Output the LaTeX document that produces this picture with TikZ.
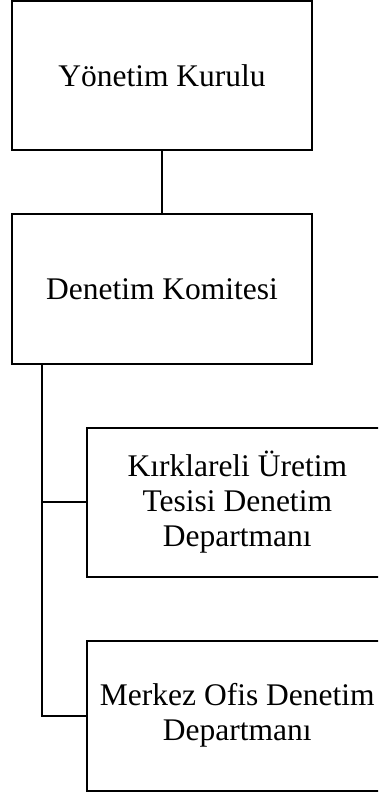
\documentclass[tikz,border=0pt]{standalone}
\usepackage{fontspec}
\setmainfont{Liberation Serif}
\usetikzlibrary{positioning}

\tikzset{
  unitbox/.style={draw, line width=2pt, minimum width=300pt, minimum height=150pt,
    inner sep=0pt, align=center, font=\fontsize{31.5}{35}\selectfont},
  orgline/.style={line width=2pt}
}

\begin{document}
\begin{tikzpicture}[x=1pt,y=-1pt]
  \clip (0,0) rectangle (378,794);
  % upper level
  \node[unitbox, minimum height=149pt] (board) at (162,76) {Yönetim Kurulu};
  \node[unitbox] (committee) at (162,289) {Denetim Komitesi};
  % departments
  \node[unitbox, minimum height=149pt] (plant) at (237.3,502)
    {Kırklareli Üretim\\Tesisi Denetim\\Departmanı};
  \node[unitbox] (office) at (237.3,715.5)
    {\raisebox{-6pt}{\parbox{300pt}{\centering Merkez Ofis Denetim\\Departmanı}}};
  \coordinate (trunk) at (42.3,364);
  \draw[orgline] (board.south) -- (committee.north);
  \draw[orgline] (trunk) |- (plant.west);
  \draw[orgline] (trunk) |- (office.west);
\end{tikzpicture}
\end{document}
